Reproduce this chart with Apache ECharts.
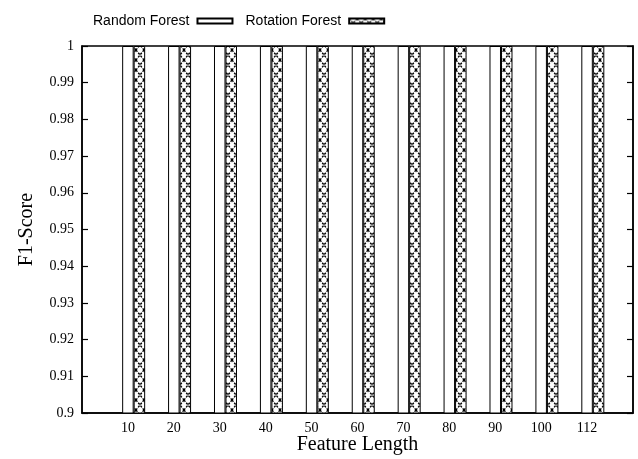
<!DOCTYPE html>
<html>
<head>
<meta charset="utf-8">
<script src="https://cdn.jsdelivr.net/npm/echarts@6/dist/echarts.min.js"></script>
<style>html,body{margin:0;padding:0;background:#fff;}#c{width:638px;height:459px;}</style>
</head>
<body>
<div id="c"></div>
<script>
const categories = ['10', '20', '30', '40', '50', '60', '70', '80', '90', '100', '112'];
const randomForest = [1, 1, 1, 1, 1, 1, 1, 1, 1, 1, 1];
const rotationForest = [1, 1, 1, 1, 1, 1, 1, 1, 1, 1, 1];
const yMin = 0.9, yMax = 1, yStep = 0.01;

// cross-hatch pattern tile
const tile = document.createElement('canvas');
tile.width = 8; tile.height = 10;
const g = tile.getContext('2d');
g.fillStyle = '#fff'; g.fillRect(0, 0, 8, 10);
g.strokeStyle = '#000'; g.lineWidth = 1.4;
g.setLineDash([2.2, 1.4]);
g.beginPath(); g.moveTo(0, 0); g.lineTo(8, 10); g.stroke();
g.beginPath(); g.moveTo(8, 0); g.lineTo(0, 10); g.stroke();
const hatch = { image: tile, repeat: 'repeat' };

const serif = '"Liberation Serif", "Times New Roman", serif';
const chart = echarts.init(document.getElementById('c'), null, { renderer: 'canvas' });
const yAxisCommon = {
  type: 'value', min: yMin, max: yMax, interval: yStep,
  axisLine: { show: true, onZero: false, lineStyle: { color: '#000', width: 1.5 } },
  axisTick: { show: true, inside: true, length: 6, lineStyle: { color: '#000', width: 1.2 } },
  splitLine: { show: false }
};
chart.setOption({
  animation: false,
  grid: { left: 82, right: 5, top: 46, bottom: 46, outerBoundsMode: 'none', containLabel: false,
    show: true, borderColor: '#000', borderWidth: 1.5, backgroundColor: 'transparent', z: 0 },
  legend: {
    left: 88, top: 9, align: 'right', itemWidth: 35, itemHeight: 5, itemGap: 12,
    icon: 'rect',
    textStyle: { fontFamily: '"Liberation Sans", Arial, sans-serif', fontSize: 14, color: '#000', padding: [0, 3, 0, 0] },
    data: ['Random Forest', 'Rotation Forest']
  },
  xAxis: [
    { type: 'value', min: -1.125, max: 10.875, show: false },
    {
      type: 'value', min: -1, max: 11, interval: 1, position: 'bottom',
      name: 'Feature Length', nameLocation: 'middle', nameGap: 22, nameMoveOverlap: false,
      nameTextStyle: { fontFamily: serif, fontSize: 20, color: '#000' },
      axisLine: { show: true, onZero: false, lineStyle: { color: '#000', width: 1.5 } },
      axisTick: { show: false }, splitLine: { show: false },
      axisLabel: {
        fontFamily: serif, fontSize: 14, color: '#000', margin: 8,
        formatter: v => (v >= 0 && v < categories.length) ? categories[v] : ''
      }
    }
  ],
  yAxis: [
    Object.assign({}, yAxisCommon, {
      position: 'left', z: 5,
      name: 'F1-Score', nameLocation: 'middle', nameGap: 45, nameMoveOverlap: false,
      nameTextStyle: { fontFamily: serif, fontSize: 20, color: '#000' },
      axisLabel: { fontFamily: serif, fontSize: 14, color: '#000', margin: 8,
        formatter: v => String(parseFloat(v.toFixed(2))) }
    }),
    Object.assign({}, yAxisCommon, { position: 'right', z: 5, axisLabel: { show: false } })
  ],
  series: [
    {
      name: 'Random Forest', type: 'bar', xAxisIndex: 0, yAxisIndex: 0,
      barWidth: 11.5, barGap: '0%',
      itemStyle: { color: '#fff', borderColor: '#000', borderWidth: 1 },
      data: randomForest.map((v, i) => [i, v])
    },
    {
      name: 'Rotation Forest', type: 'bar', xAxisIndex: 0, yAxisIndex: 0,
      barWidth: 11.5, barGap: '0%',
      itemStyle: { color: hatch, borderColor: '#000', borderWidth: 1 },
      data: rotationForest.map((v, i) => [i, v])
    }
  ]
});
</script>
</body>
</html>
